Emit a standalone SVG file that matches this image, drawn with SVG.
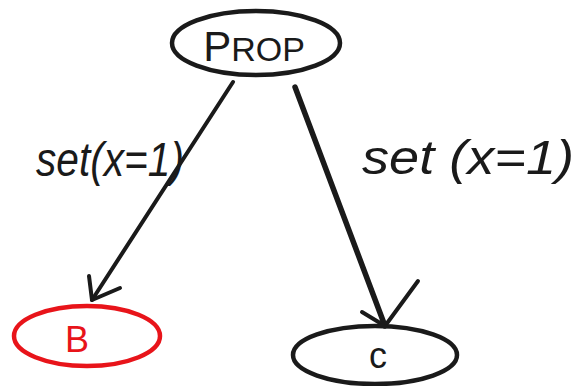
<svg xmlns="http://www.w3.org/2000/svg" width="584" height="386" viewBox="0 0 584 386">
<style>
.node{fill:none;stroke:#1a1a1a;stroke-width:4.5}
.red{stroke:#e8141a}
.lbl{font-family:"Liberation Sans",sans-serif;fill:#1a1a1a}
.edge{fill:none;stroke:#1a1a1a;stroke-linecap:round;stroke-linejoin:round}
</style>
<rect width="584" height="386" fill="#ffffff"/>
<g id="connectors">
<path class="edge" stroke-width="4" d="M233 82 L92 300"/>
<path class="edge" stroke-width="4" d="M89 276 L92 300 L120 288"/>
<path class="edge" stroke-width="5.5" d="M295 87 L385 326"/>
<path class="edge" stroke-width="4" d="M362 312 L385 326 L418 281"/>
<text class="lbl" x="36" y="176" font-size="48" font-style="italic" textLength="148" lengthAdjust="spacingAndGlyphs">set(x=1)</text>
<text class="lbl" x="362" y="174" font-size="48" font-style="italic" textLength="212" lengthAdjust="spacingAndGlyphs">set (x=1)</text>
</g>
<g id="PROP">
<ellipse class="node" cx="256" cy="43" rx="84" ry="32"/>
<text class="lbl" x="254" y="61" font-size="42" text-anchor="middle">P<tspan font-size="34">ROP</tspan></text>
</g>
<g id="B">
<ellipse class="node red" cx="87" cy="336" rx="73" ry="30"/>
<text class="lbl" x="77" y="352" font-size="36" text-anchor="middle" style="fill:#e8141a">B</text>
</g>
<g id="C">
<ellipse class="node" cx="375" cy="355" rx="82" ry="29"/>
<text class="lbl" x="378" y="368" font-size="36" text-anchor="middle">c</text>
</g>
</svg>
